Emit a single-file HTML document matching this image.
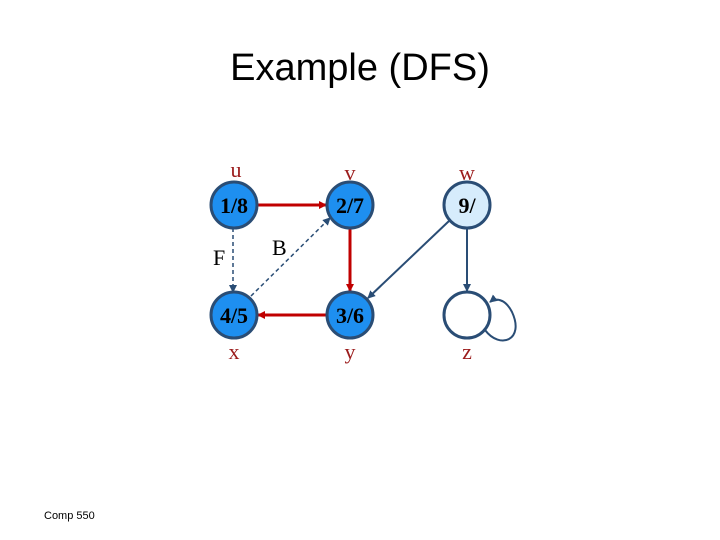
<!DOCTYPE html>
<html><head><style>
html,body{margin:0;padding:0;background:#fff;width:720px;height:540px;overflow:hidden}
</style></head><body>
<svg width="720" height="540" xmlns="http://www.w3.org/2000/svg">
<defs>
<marker id="ar" markerWidth="8" markerHeight="8" refX="7" refY="4" orient="auto" markerUnits="userSpaceOnUse"><path d="M0,0 L8,4 L0,8 z" fill="#c00000"/></marker>
<marker id="ab" markerWidth="8" markerHeight="8" refX="7" refY="4" orient="auto" markerUnits="userSpaceOnUse"><path d="M0,0 L8,4 L0,8 z" fill="#2a4d75"/></marker>
</defs>
<text x="360" y="80" text-anchor="middle" font-family="Liberation Sans, sans-serif" font-size="38" fill="#000">Example (DFS)</text>
<text x="44" y="519" font-family="Liberation Sans, sans-serif" font-size="11" fill="#000">Comp 550</text>
<g font-family="Liberation Serif, serif" font-size="22" fill="#9b1c1c" text-anchor="middle">
<text x="236" y="177">u</text><text x="350" y="180">v</text><text x="467" y="180">w</text>
<text x="234" y="359">x</text><text x="350" y="359">y</text><text x="467" y="359">z</text>
</g>
<g font-family="Liberation Serif, serif" font-size="22" fill="#000">
<text x="213" y="265">F</text><text x="272" y="255">B</text>
</g>
<!-- edges -->
<line x1="258" y1="205" x2="326" y2="205" stroke="#c00000" stroke-width="3" marker-end="url(#ar)"/>
<line x1="350" y1="229" x2="350" y2="291" stroke="#c00000" stroke-width="3" marker-end="url(#ar)"/>
<line x1="326" y1="315" x2="258" y2="315" stroke="#c00000" stroke-width="3" marker-end="url(#ar)"/>
<line x1="233" y1="228" x2="233" y2="292" stroke="#2a4d75" stroke-width="1.5" stroke-dasharray="4,3" marker-end="url(#ab)"/>
<line x1="251" y1="296" x2="330" y2="218" stroke="#2a4d75" stroke-width="1.5" stroke-dasharray="4,3" marker-end="url(#ab)"/>
<line x1="449" y1="221" x2="368" y2="298" stroke="#2a4d75" stroke-width="2" marker-end="url(#ab)"/>
<line x1="467" y1="229" x2="467" y2="291" stroke="#2a4d75" stroke-width="2" marker-end="url(#ab)"/>
<path d="M485,330 C500,350 525,340 512,312 C505,298 495,298 490,302" fill="none" stroke="#2a4d75" stroke-width="2" marker-end="url(#ab)"/>
<!-- nodes -->
<g stroke="#2a4d75" stroke-width="3">
<circle cx="234" cy="205" r="23" fill="#1e8ff0"/>
<circle cx="350" cy="205" r="23" fill="#1e8ff0"/>
<circle cx="467" cy="205" r="23" fill="#d6ecfc"/>
<circle cx="234" cy="315" r="23" fill="#1e8ff0"/>
<circle cx="350" cy="315" r="23" fill="#1e8ff0"/>
<circle cx="467" cy="315" r="23" fill="#fff"/>
</g>
<g font-family="Liberation Serif, serif" font-size="22" font-weight="bold" fill="#000" text-anchor="middle">
<text x="234" y="213">1/8</text><text x="350" y="213">2/7</text><text x="467" y="213">9/</text>
<text x="234" y="323">4/5</text><text x="350" y="323">3/6</text>
</g>
</svg>
</body></html>
